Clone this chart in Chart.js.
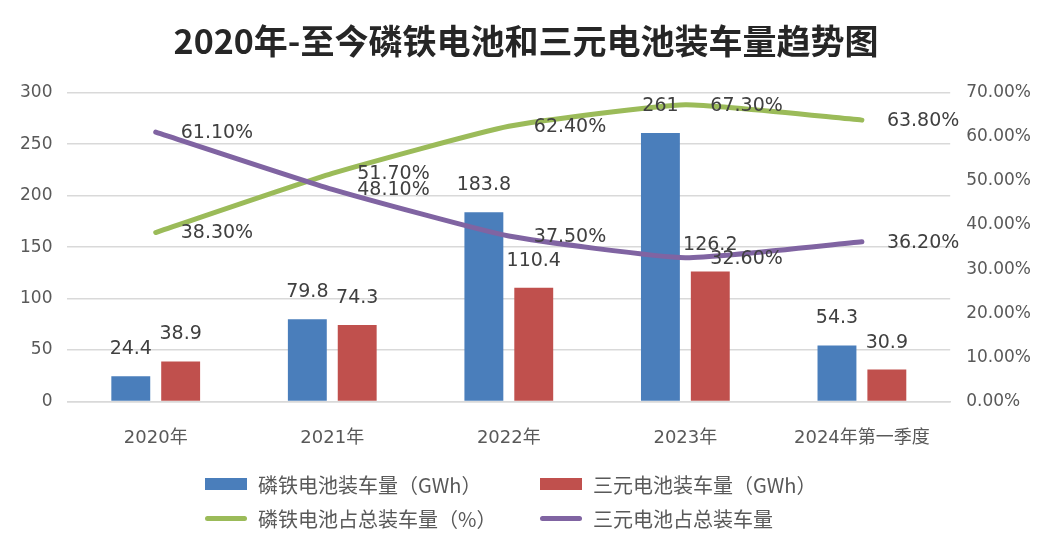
<!DOCTYPE html>
<html>
<head>
<meta charset="utf-8">
<script src="https://cdn.jsdelivr.net/npm/chart.js@4"></script>
<style>
  html, body { margin: 0; padding: 0; background: #fff; }
  #wrap { position: relative; width: 1050px; height: 551px; }
  #legend {
    position: absolute; left: 205px; top: 469px;
    display: grid; grid-template-columns: 335px auto; row-gap: 4px;
    font-family: "Noto Sans CJK SC", sans-serif; font-size: 20px; color: #595959;
  }
  #legend .item { display: flex; align-items: center; height: 30px; }
  #legend .sw { width: 42px; margin-right: 11px; }
</style>
</head>
<body>
<div id="wrap">
  <canvas id="chart" width="1050" height="551"></canvas>
  <div id="legend"></div>
</div>
<script>
var years = ['2020年', '2021年', '2022年', '2023年', '2024年第一季度']
var lfpVolume = [24.4, 79.8, 183.8, 261, 54.3]
var nmcVolume = [38.9, 74.3, 110.4, 126.2, 30.9]
var lfpShare = [38.3, 51.7, 62.4, 67.3, 63.8]
var nmcShare = [61.1, 48.1, 37.5, 32.6, 36.2]

var tickFont = { family: 'DejaVu Sans, Noto Sans CJK SC', size: 17 }

// value labels like the excel chart: above bars, right of line points
var valueLabels = {
  id: 'valueLabels',
  afterDatasetsDraw: function (chart) {
    var ctx = chart.ctx
    ctx.save()
    ctx.font = '19px DejaVu Sans'
    ctx.fillStyle = '#404040'
    ctx.textBaseline = 'middle'
    chart.data.datasets.forEach(function (ds, i) {
      var meta = chart.getDatasetMeta(i)
      meta.data.forEach(function (el, j) {
        var v = ds.data[j]
        if (ds.type === 'line') {
          ctx.textAlign = 'left'
          ctx.fillText(v.toFixed(2) + '%', el.x + 25, el.y + 1)
        } else {
          ctx.textAlign = 'center'
          ctx.fillText(String(v), el.x, el.y - 27)
        }
      })
    })
    ctx.restore()
  }
}

var chart = new Chart(document.getElementById('chart'), {
  data: {
    labels: years,
    datasets: [
      { type: 'bar', label: '磷铁电池装车量（GWh）', data: lfpVolume, backgroundColor: '#4a7ebb', yAxisID: 'y', order: 2 },
      { type: 'bar', label: '三元电池装车量（GWh）', data: nmcVolume, backgroundColor: '#c0504d', yAxisID: 'y', order: 2 },
      { type: 'line', label: '磷铁电池占总装车量（%）', data: lfpShare, borderColor: '#9bbb59', backgroundColor: '#9bbb59',
        borderWidth: 5, tension: 0.15, pointRadius: 0, borderCapStyle: 'round', yAxisID: 'y1', order: 1 },
      { type: 'line', label: '三元电池占总装车量', data: nmcShare, borderColor: '#8064a2', backgroundColor: '#8064a2',
        borderWidth: 5, tension: 0.15, pointRadius: 0, borderCapStyle: 'round', yAxisID: 'y1', order: 0 }
    ]
  },
  options: {
    responsive: false,
    animation: false,
    layout: { padding: { left: 5, right: 3, bottom: 84 } },
    datasets: { bar: { categoryPercentage: 0.565, barPercentage: 0.78 } },
    scales: {
      x: {
        grid: { display: false },
        border: { display: true, color: '#d9d9d9', width: 1.5 },
        ticks: { font: { family: 'DejaVu Sans, Noto Sans CJK SC', size: 18 }, color: '#595959', padding: 18 }
      },
      y: {
        position: 'left', min: 0, max: 300,
        grid: { color: '#d9d9d9', lineWidth: 1.5, drawTicks: false },
        border: { display: false },
        ticks: { stepSize: 50, font: tickFont, color: '#595959', padding: 15 }
      },
      y1: {
        position: 'right', min: 0, max: 70,
        grid: { drawOnChartArea: false, drawTicks: false },
        border: { display: false },
        ticks: { stepSize: 10, font: tickFont, color: '#595959', padding: 16,
          callback: function (v) { return v.toFixed(2) + '%' } }
      }
    },
    plugins: {
      legend: { display: false },
      tooltip: { enabled: false },
      title: {
        display: true,
        text: '2020年-至今磷铁电池和三元电池装车量趋势图',
        color: '#262626',
        font: { family: 'Noto Sans CJK SC', size: 34, weight: 'bold' },
        padding: { top: 21, bottom: 31 }
      }
    }
  },
  plugins: [valueLabels]
})

// html legend in two rows, like the original
var legendBox = document.getElementById('legend')
chart.data.datasets.forEach(function (ds) {
  var item = document.createElement('div')
  item.className = 'item'
  var sw = document.createElement('span')
  sw.className = 'sw'
  sw.style.background = ds.type === 'line' ? ds.borderColor : ds.backgroundColor
  sw.style.height = ds.type === 'line' ? '5px' : '12px'
  if (ds.type === 'line') sw.style.borderRadius = '3px'
  var txt = document.createElement('span')
  txt.textContent = ds.label
  item.appendChild(sw)
  item.appendChild(txt)
  legendBox.appendChild(item)
})
</script>
</body>
</html>
